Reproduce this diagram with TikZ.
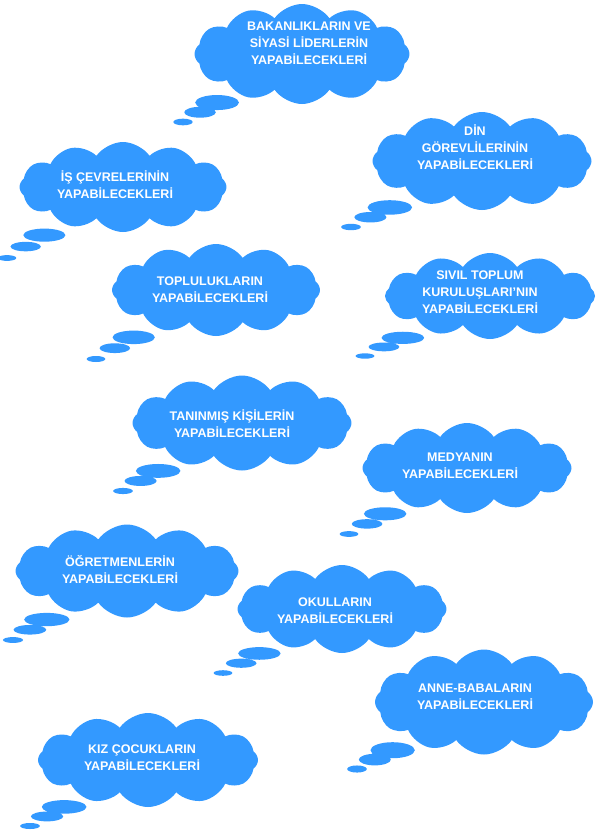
\documentclass[tikz,border=0pt]{standalone}
\usepackage{fontspec}
\setmainfont{Liberation Sans}
\usetikzlibrary{shapes.symbols,shapes.callouts,positioning}
\definecolor{CloudBlue}{HTML}{3399FF}

\begin{document}
\begin{tikzpicture}[
    x=1pt,y=-1pt,
    thought/.style={cloud callout,fill=CloudBlue,draw=none,cloud puffs=12,cloud puff arc=110,
      cloud ignores aspect,inner sep=0pt,
      callout pointer start size=.26 of callout,callout pointer end size=.09 of callout,
      callout pointer segments=3},
    tlabel/.style={text=white,font=\fontsize{12.5}{17}\selectfont\bfseries,align=center,inner sep=0pt}
  ]
  \useasboundingbox[fill=white] (0,0) rectangle (596,831);
  % Clouds, top row
  \node[thought,minimum width=215,minimum height=100,callout absolute pointer={(183,122)}] (bakan) at (302,54) {};
  \node[thought,minimum width=207,minimum height=90,callout absolute pointer={(7,258)}] (is) at (123,187) {};
  \node[thought,minimum width=219,minimum height=98,callout absolute pointer={(351,227)}] (din) at (482,161) {};
  % Middle
  \node[thought,minimum width=208,minimum height=92,callout absolute pointer={(96,359)}] (toplu) at (216,290) {};
  \node[thought,minimum width=210,minimum height=86,callout absolute pointer={(365,356)}] (sivil) at (490,296) {};
  \node[thought,minimum width=219,minimum height=95,callout absolute pointer={(123,491)}] (tanin) at (242,423) {};
  \node[thought,minimum width=209,minimum height=90,callout absolute pointer={(349,534)}] (medya) at (467,468) {};
  % Bottom
  \node[thought,minimum width=223,minimum height=93,callout absolute pointer={(13,640)}] (ogret) at (127,571) {};
  \node[thought,minimum width=209,minimum height=88,callout absolute pointer={(223,673)}] (okul) at (342,609) {};
  \node[thought,minimum width=218,minimum height=105,callout absolute pointer={(357,769)}] (anne) at (484,702) {};
  \node[thought,minimum width=220,minimum height=94,callout absolute pointer={(30,826)}] (kiz) at (148,760) {};
  % Texts
  \node[tlabel] (bakantext) at (309,43) {BAKANLIKLARIN VE\\SİYASİ LİDERLERİN\\YAPABİLECEKLERİ};
  \node[tlabel] (istext) at (115,185) {İŞ ÇEVRELERİNİN\\YAPABİLECEKLERİ};
  \node[tlabel] (dintext) at (475,147) {DİN\\GÖREVLİLERİNİN\\YAPABİLECEKLERİ};
  \node[tlabel] (toplutext) at (210,290) {TOPLULUKLARIN\\YAPABİLECEKLERİ};
  \node[tlabel] (siviltext) at (480,292) {SIVIL TOPLUM\\KURULUŞLARI’NIN\\YAPABİLECEKLERİ};
  \node[tlabel] (tanintext) at (232,424) {TANINMIŞ KİŞİLERİN\\YAPABİLECEKLERİ};
  \node[tlabel] (medyatext) at (460,466) {MEDYANIN\\YAPABİLECEKLERİ};
  \node[tlabel] (ogrettext) at (120,570) {ÖĞRETMENLERİN\\YAPABİLECEKLERİ};
  \node[tlabel] (okultext) at (335,611) {OKULLARIN\\YAPABİLECEKLERİ};
  \node[tlabel] (annetext) at (475,697) {ANNE-BABALARIN\\YAPABİLECEKLERİ};
  \node[tlabel] (kiztext) at (142,758) {KIZ ÇOCUKLARIN\\YAPABİLECEKLERİ};
\end{tikzpicture}
\end{document}
